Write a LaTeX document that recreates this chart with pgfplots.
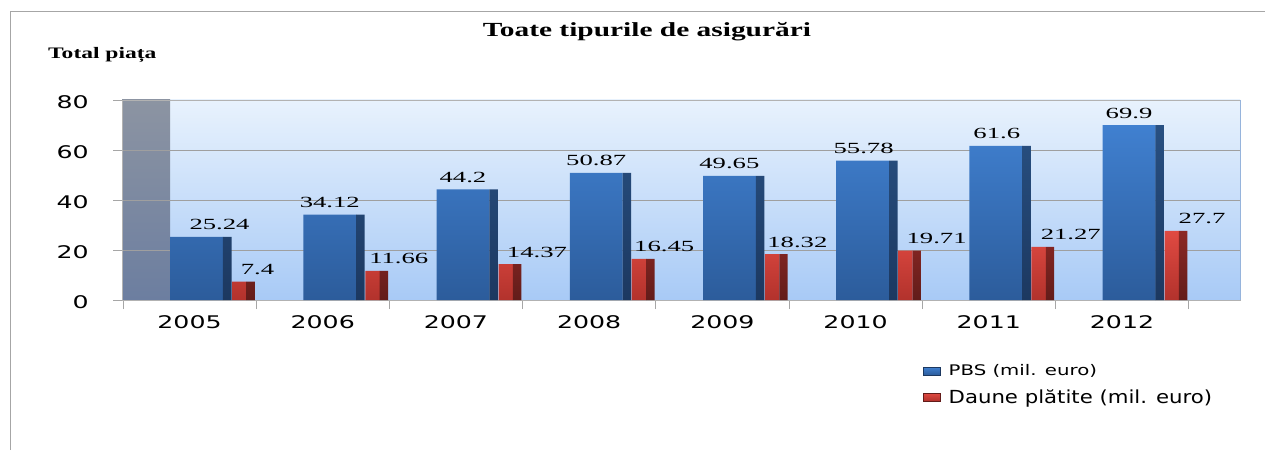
\documentclass[border=0pt]{standalone}
\usepackage{fontspec}
\setmainfont{Liberation Serif}
\usepackage{pgfplots}
\usepackage{pgfplotstable}
\pgfplotsset{compat=1.18}
\newfontfamily\tickfont{DejaVu Sans}[FakeStretch=1.45]
\newfontfamily\valfont{Liberation Serif}[FakeStretch=1.72]
\newfontfamily\titlefont{Liberation Serif}[FakeStretch=1.47]
\newfontfamily\legfontA{DejaVu Sans}[FakeStretch=1.35]
\newfontfamily\legfontB{DejaVu Sans}[FakeStretch=1.18]
\definecolor{bgtop}{RGB}{232,242,253}
\definecolor{bgbot}{RGB}{168,202,246}
\definecolor{walltop}{RGB}{140,148,162}
\definecolor{wallbot}{RGB}{108,126,160}
\definecolor{bft}{RGB}{64,128,208}
\definecolor{bfb}{RGB}{44,92,155}
\definecolor{bst}{RGB}{40,80,130}
\definecolor{bsb}{RGB}{28,56,96}
\definecolor{rft}{RGB}{224,74,66}
\definecolor{rfb}{RGB}{178,50,44}
\definecolor{rst}{RGB}{140,40,36}
\definecolor{rsb}{RGB}{98,28,26}
\pgfplotstableread{
x pbs daune dxb dxr
0 25.24 7.40 30 68
1 34.12 11.66 7 76
2 44.20 14.37 7 81
3 50.87 16.45 7 75
4 49.65 18.32 7 75
5 55.78 19.71 8 81
6 61.60 21.27 8 82
7 69.90 27.70 7 80
}\data
\begin{document}
\begin{tikzpicture}
\useasboundingbox (0,0) rectangle (1265pt,450pt);
\fill[white] (0,0) rectangle (1265pt,450pt);
\draw[gray!70, line width=1pt] (10pt,0pt) -- (10pt,438pt) -- (1265pt,438pt);
\shade[top color=bgtop, bottom color=bgbot] (122pt,150pt) rectangle (1240pt,350pt);
\shade[top color=walltop, bottom color=wallbot] (122pt,150pt) rectangle (170pt,350pt);
\node[anchor=base, inner sep=0pt, font=\titlefont\bfseries\fontsize{20}{22}\selectfont] at (647pt,413pt) {Toate tipurile de asigurări};
\node[anchor=base west, inner sep=0pt, font=\titlefont\bfseries\fontsize{16}{18}\selectfont] at (48pt,391.7pt) {Total piața};
\begin{axis}[
  at={(122pt,150pt)}, anchor=south west,
  width=1118pt, height=200pt, scale only axis,
  xmin=-0.507, xmax=7.886, ymin=0, ymax=80,
  ytick={0,20,...,80},
  xtick={-0.5,0.5,...,6.5},
  xticklabels={2005,2006,2007,2008,2009,2010,2011,2012},
  extra x ticks={7.5}, extra x tick labels={},
  tick pos=left,
  tick align=outside, major tick length=9pt,
  tick style={gray!70, line width=0.8pt},
  ymajorgrids,
  grid style={gray!75, line width=0.8pt},
  axis line style={gray!60, line width=0.8pt},
  /pgf/number format/assume math mode=true,
  tick label style={font=\tickfont\fontsize{17.4}{20}\selectfont},
  xticklabel style={xshift=66.6pt, anchor=base, yshift=-19pt},
  yticklabel style={anchor=east, inner sep=0pt, xshift=-24pt, yshift=-2pt},
  legend style={at={(0.7165,-0.318)}, anchor=north west, draw=none, fill=none, inner sep=0pt, row sep=10pt, nodes={inner sep=1pt, anchor=west},
    /tikz/every odd column/.append style={column sep=7pt}},
  legend cell align=left,
  clip=false,
]
\addplot[ybar, bar width=0.397, bar shift=0.053, draw=none, top color=bft, bottom color=bfb,
  visualization depends on={\thisrow{dxb} \as \dxb},
  nodes near coords,
  every node near coord/.append style={font=\valfont\fontsize{15.5}{17}\selectfont, anchor=base, inner sep=0pt, yshift=7pt, xshift=\dxb pt, text=black},
  legend image code/.code={\shade[top color=bft, bottom color=bfb, draw=bsb] (0pt,-4pt) rectangle (17pt,4pt);}
  ] table[x=x, y=pbs]{\data};
\addlegendentry{\legfontA\fontsize{14.6}{17}\selectfont PBS (mil. euro)}
\addplot[ybar, bar width=0.064, bar shift=0.283, draw=none, top color=bst, bottom color=bsb, forget plot] table[x=x, y=pbs]{\data};
\addplot[ybar, bar width=0.109, bar shift=0.374, draw=none, top color=rft, bottom color=rfb,
  visualization depends on={\thisrow{dxr} \as \dxr},
  nodes near coords,
  every node near coord/.append style={font=\valfont\fontsize{15.5}{17}\selectfont, anchor=base, inner sep=0pt, yshift=7pt, xshift=\dxr pt, text=black},
  legend image code/.code={\shade[top color=rft, bottom color=rfb, draw=rsb] (0pt,-4pt) rectangle (17pt,4pt);}
  ] table[x=x, y=daune]{\data};
\addlegendentry{\legfontB\fontsize{18}{20}\selectfont Daune plătite (mil. euro)}
\addplot[ybar, bar width=0.063, bar shift=0.459, draw=none, top color=rst, bottom color=rsb, forget plot] table[x=x, y=daune]{\data};
\draw[color={rgb,255:red,150;green,180;blue,220}, line width=0.8pt] (rel axis cs:1,0) -- (rel axis cs:1,1);
\end{axis}
\end{tikzpicture}
\end{document}
